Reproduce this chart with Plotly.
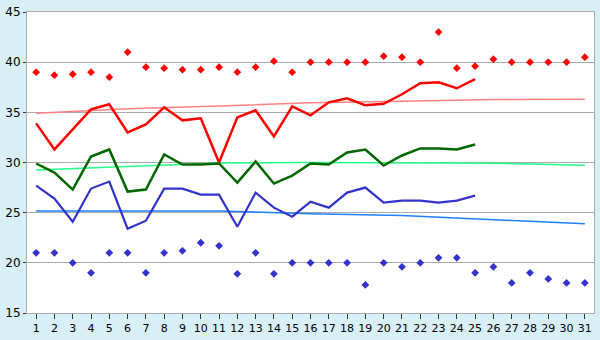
import plotly.graph_objects as go

days = [1, 2, 3, 4, 5, 6, 7, 8, 9, 10, 11, 12, 13, 14, 15, 16,
        17, 18, 19, 20, 21, 22, 23, 24, 25, 26, 27, 28, 29, 30, 31]

max_points = [39, 38.7, 38.8, 39, 38.5, 41, 39.5, 39.4, 39.25, 39.25,
              39.5, 39, 39.5, 40.1, 39, 40, 40, 40, 40, 40.6,
              40.5, 40, 43, 39.4, 39.6, 40.3, 40, 40, 40, 40, 40.5]
min_points = [21, 21, 20, 19, 21, 21, 19, 21, 21.2, 22,
              21.7, 18.9, 21, 18.9, 20, 20, 20, 20, 17.8, 20,
              19.6, 20, 20.5, 20.5, 19, 19.6, 18, 19, 18.4, 18, 18]

line_days = days[:25]
high_line = [33.9, 31.3, 33.3, 35.3, 35.8, 33.0, 33.8, 35.5, 34.2, 34.4,
             30.0, 34.5, 35.2, 32.6, 35.6, 34.7, 36.0, 36.4, 35.7, 35.85,
             36.8, 37.9, 38.0, 37.4, 38.3]
mid_line = [29.9, 29.0, 27.3, 30.6, 31.3, 27.1, 27.3, 30.8, 29.8, 29.8,
            29.9, 28.0, 30.1, 27.9, 28.7, 29.9, 29.8, 31.0, 31.3, 29.7,
            30.7, 31.4, 31.4, 31.3, 31.8]
low_line = [27.7, 26.4, 24.1, 27.4, 28.1, 23.4, 24.2, 27.4, 27.4, 26.8,
            26.8, 23.6, 27.0, 25.5, 24.6, 26.1, 25.5, 27.0, 27.5, 26.0,
            26.2, 26.2, 26.0, 26.2, 26.7]

trend_days = [1, 6, 11, 16, 21, 26, 31]
high_trend = [34.9, 35.35, 35.64, 35.95, 36.1, 36.27, 36.3]
mid_trend = [29.25, 29.57, 29.95, 30.0, 30.0, 29.93, 29.73]
low_trend = [25.16, 25.16, 25.16, 24.9, 24.71, 24.3, 23.9]

y_ticks = [15, 20, 25, 30, 35, 40, 45]

fig = go.Figure()

fig.add_trace(go.Scatter(x=trend_days, y=high_trend, mode="lines",
                         line=dict(color="#FF8080", width=1.5), hoverinfo="skip"))
fig.add_trace(go.Scatter(x=trend_days, y=mid_trend, mode="lines",
                         line=dict(color="#22FF88", width=1.5), hoverinfo="skip"))
fig.add_trace(go.Scatter(x=trend_days, y=low_trend, mode="lines",
                         line=dict(color="#1E7FFF", width=1.5), hoverinfo="skip"))

fig.add_trace(go.Scatter(x=line_days, y=high_line, mode="lines",
                         line=dict(color="#FF0000", width=2.5)))
fig.add_trace(go.Scatter(x=line_days, y=mid_line, mode="lines",
                         line=dict(color="#006600", width=2.5)))
fig.add_trace(go.Scatter(x=line_days, y=low_line, mode="lines",
                         line=dict(color="#3333CC", width=2.2)))

fig.add_trace(go.Scatter(x=days, y=max_points, mode="markers",
                         marker=dict(symbol="diamond", size=6, color="#FF0000")))
fig.add_trace(go.Scatter(x=days, y=min_points, mode="markers",
                         marker=dict(symbol="diamond", size=6, color="#3333CC")))

fig.update_layout(
    width=600, height=340,
    margin=dict(l=20, r=5, t=5, b=20),
    paper_bgcolor="#D8EFF6",
    plot_bgcolor="#FFFFFF",
    showlegend=False,
    font=dict(family="DejaVu Sans", size=11, color="#000000"),
)
fig.update_xaxes(
    range=[0.5, 31.5], tickmode="array", tickvals=days,
    ticktext=[str(d) for d in days],
    showgrid=False, zeroline=False,
    showline=True, linecolor="#AAAAAA", linewidth=1, mirror=True,
    ticks="outside", ticklen=5, tickcolor="#333333", tickwidth=1,
    tickfont=dict(size=11),
)
fig.update_yaxes(
    range=[15, 45], tickvals=y_ticks,
    showgrid=True, gridcolor="#AAAAAA", gridwidth=1, zeroline=False,
    showline=True, linecolor="#AAAAAA", linewidth=1, mirror=True,
    ticks="outside", ticklen=3, tickcolor="#333333", tickwidth=1,
    tickfont=dict(size=12), ticklabeloverflow="allow",
)

fig.write_html("out.html")
